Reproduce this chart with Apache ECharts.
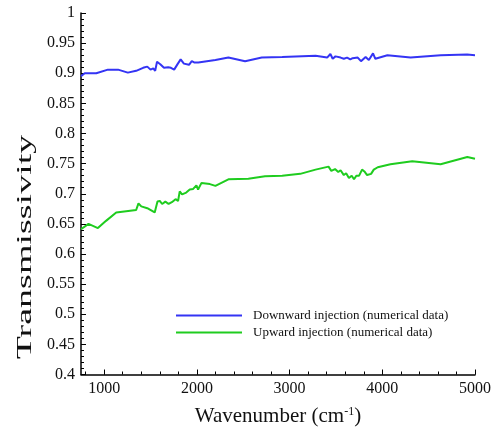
<!DOCTYPE html>
<html>
<head>
<meta charset="utf-8">
<script src="https://cdn.jsdelivr.net/npm/echarts@6/dist/echarts.min.js"></script>
<style>html,body{margin:0;padding:0;background:#fff;}#c{width:501px;height:432px;}</style>
</head>
<body>
<div id="c"></div>
<script>
const seriesNames = ['Downward injection (numerical data)', 'Upward injection (numerical data)'];
const xTickLabels = [1000, 2000, 3000, 4000, 5000];
const yTickLabels = [0.4, 0.45, 0.5, 0.55, 0.6, 0.65, 0.7, 0.75, 0.8, 0.85, 0.9, 0.95, 1];

const blueX = [750, 790, 915, 1040, 1150, 1255, 1345, 1420, 1465, 1500, 1530, 1550, 1570, 1605, 1645, 1690, 1720, 1755, 1795, 1825, 1860, 1880, 1915, 1945, 1970, 2015, 2200, 2340, 2520, 2700, 2920, 3280, 3405, 3440, 3465, 3495, 3550, 3585, 3620, 3655, 3680, 3700, 3735, 3770, 3820, 3855, 3875, 3900, 3925, 4055, 4305, 4630, 4915, 5000];
const blueY = [0.895, 0.900, 0.900, 0.906, 0.906, 0.901, 0.904, 0.909, 0.911, 0.906, 0.908, 0.904, 0.919, 0.915, 0.909, 0.910, 0.909, 0.906, 0.916, 0.923, 0.916, 0.919, 0.914, 0.920, 0.918, 0.918, 0.922, 0.926, 0.920, 0.926, 0.927, 0.929, 0.926, 0.932, 0.924, 0.928, 0.926, 0.924, 0.926, 0.923, 0.925, 0.922, 0.926, 0.920, 0.927, 0.922, 0.923, 0.933, 0.924, 0.930, 0.926, 0.930, 0.931, 0.930];

const greenX = [750, 831, 932, 1020, 1130, 1345, 1370, 1400, 1465, 1545, 1575, 1600, 1625, 1660, 1695, 1730, 1770, 1797, 1815, 1840, 1885, 1923, 1960, 1995, 2013, 2050, 2140, 2200, 2340, 2555, 2735, 2920, 3115, 3280, 3420, 3450, 3490, 3525, 3550, 3585, 3610, 3640, 3670, 3695, 3720, 3750, 3782, 3807, 3836, 3879, 3908, 3926, 3951, 4088, 4323, 4629, 4917, 5000];
const greenY = [0.641, 0.650, 0.643, 0.655, 0.669, 0.673, 0.684, 0.679, 0.676, 0.669, 0.687, 0.688, 0.683, 0.687, 0.683, 0.686, 0.691, 0.688, 0.704, 0.699, 0.702, 0.707, 0.708, 0.714, 0.707, 0.718, 0.716, 0.713, 0.724, 0.725, 0.729, 0.730, 0.733, 0.740, 0.745, 0.738, 0.741, 0.736, 0.739, 0.731, 0.734, 0.726, 0.730, 0.724, 0.730, 0.730, 0.740, 0.737, 0.731, 0.733, 0.740, 0.738, 0.744, 0.749, 0.754, 0.749, 0.761, 0.758];

const colors = ['#3434f4', '#1fcc1f'];
const FONT = '"Liberation Serif", "Times New Roman", serif';

function pairs(xs, ys) { return xs.map((x, i) => [x, ys[i]]); }
const minorX = [];
for (let v = 800; v <= 5000; v += 200) minorX.push(v);

const labelRich = { t: { fontFamily: FONT, fontSize: 16, color: '#111' } };

const chart = echarts.init(document.getElementById('c'));
chart.setOption({
  animation: false,
  backgroundColor: '#fff',
  textStyle: { fontFamily: FONT },
  grid: { left: 81, right: 26, top: 13, bottom: 48 },
  legend: {
    orient: 'vertical', left: 176, top: 309, itemGap: 4, padding: 0,
    itemWidth: 66, itemHeight: 2, icon: 'rect',
    textStyle: { fontFamily: FONT, fontSize: 13, color: '#111', padding: [0, 0, 0, 6] },
    data: seriesNames
  },
  xAxis: [{
    type: 'value', min: 750, max: 5000,
    axisLine: { show: true, onZero: false, lineStyle: { color: '#000', width: 1.5 } },
    axisTick: { show: true, inside: true, length: 5, customValues: xTickLabels, lineStyle: { color: '#000' } },
    axisLabel: { customValues: xTickLabels, fontFamily: FONT, fontSize: 16, color: '#111', margin: 6,
      formatter: v => '{t|' + v + '}', rich: labelRich },
    splitLine: { show: false },
    name: '{a|Wavenumber (cm}{s|-1}{a|)}',
    nameLocation: 'middle', nameGap: 31,
    nameTextStyle: {
      rich: {
        a: { fontFamily: FONT, fontSize: 21, color: '#111' },
        s: { fontFamily: FONT, fontSize: 12, color: '#111', verticalAlign: 'top', padding: [0, 0, 10, 0] }
      }
    }
  }, {
    type: 'value', min: 750, max: 5000, position: 'bottom',
    axisLine: { show: false, onZero: false },
    axisTick: { show: true, inside: true, length: 3, customValues: minorX, lineStyle: { color: '#000' } },
    axisLabel: { show: false },
    splitLine: { show: false }
  }],
  yAxis: {
    type: 'value', min: 0.4, max: 1, interval: 0.05,
    axisLine: { show: true, onZero: false, lineStyle: { color: '#000', width: 1.5 } },
    axisTick: { show: true, inside: true, length: 5, lineStyle: { color: '#000' } },
    minorTick: { show: true, splitNumber: 5, length: 3, lineStyle: { color: '#000' } },
    axisLabel: {
      fontFamily: FONT, fontSize: 16, color: '#111', margin: 6,
      formatter: v => '{t|' + String(parseFloat(v.toFixed(2))) + '}', rich: labelRich
    },
    splitLine: { show: false }
  },
  graphic: [{
    type: 'text', x: 26, y: 247, rotation: Math.PI / 2, scaleX: 1.9, scaleY: 1,
    style: { text: 'Transmissivity', fontFamily: FONT, fontSize: 20, fill: '#111', align: 'center', verticalAlign: 'middle' }
  }],
  series: [{
    name: seriesNames[0], type: 'line', data: pairs(blueX, blueY), showSymbol: false,
    color: colors[0], lineStyle: { width: 2, color: colors[0] }
  }, {
    name: seriesNames[1], type: 'line', data: pairs(greenX, greenY), showSymbol: false,
    color: colors[1], lineStyle: { width: 2, color: colors[1] }
  }]
});
</script>
</body>
</html>
